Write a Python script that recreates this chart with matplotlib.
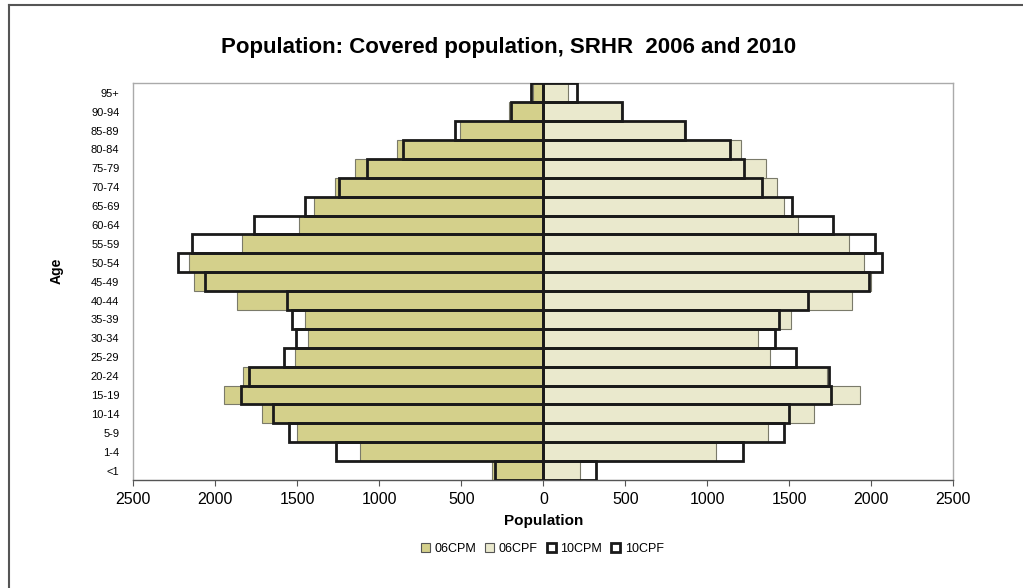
import matplotlib
matplotlib.use("Agg")
import matplotlib.pyplot as plt
from matplotlib.patches import Patch
from matplotlib.lines import Line2D
import numpy as np

plt.rcParams['font.family'] = ['Liberation Sans', 'DejaVu Sans']

# Age groups, youngest at the bottom
ages = ['<1', '1-4', '5-9', '10-14', '15-19', '20-24', '25-29', '30-34', '35-39',
        '40-44', '45-49', '50-54', '55-59', '60-64', '65-69', '70-74', '75-79',
        '80-84', '85-89', '90-94', '95+']

# Covered population by sex, 2006 and 2010
m06 = [310, 1115, 1500, 1715, 1950, 1830, 1515, 1435, 1455, 1865, 2130, 2160,
       1835, 1490, 1400, 1270, 1150, 890, 505, 210, 60]
f06 = [225, 1055, 1370, 1650, 1930, 1730, 1380, 1310, 1510, 1885, 2000, 1955,
       1865, 1555, 1470, 1425, 1355, 1205, 860, 475, 150]
m10 = [295, 1265, 1550, 1650, 1845, 1795, 1580, 1505, 1530, 1560, 2060, 2225,
       2145, 1765, 1455, 1245, 1075, 855, 540, 200, 75]
f10 = [320, 1215, 1470, 1500, 1755, 1740, 1540, 1415, 1435, 1615, 1985, 2065,
       2025, 1765, 1515, 1335, 1225, 1140, 865, 480, 205]

xticks = [-2500, -2000, -1500, -1000, -500, 0, 500, 1000, 1500, 2000, 2500]

c_m06 = '#D4D08B'
c_f06 = '#EAE9CD'

fig = plt.figure(figsize=(10.23, 5.88), dpi=100)
ax = fig.add_axes([0.1303, 0.1837, 0.8016, 0.6746])

y = np.arange(len(ages))

# 2006: filled bars
ax.barh(y, -np.array(m06), height=1.0, color=c_m06, edgecolor='#7a7a6a', linewidth=0.8, zorder=2)
ax.barh(y, np.array(f06), height=1.0, color=c_f06, edgecolor='#7a7a6a', linewidth=0.8, zorder=2)
# 2010: outlines on top
ax.barh(y, -np.array(m10), height=1.0, facecolor='none', edgecolor='#1a1a1a', linewidth=2.0, zorder=3)
ax.barh(y, np.array(f10), height=1.0, facecolor='none', edgecolor='#1a1a1a', linewidth=2.0, zorder=3)

ax.set_xlim(-2500, 2500)
ax.set_ylim(-0.5, len(ages) - 0.5)
ax.set_xticks(xticks)
ax.set_xticklabels([str(abs(v)) for v in xticks], fontsize=11.5)
ax.set_yticks(y)
ax.set_yticklabels(ages, fontsize=8)
ax.tick_params(axis='y', length=0, pad=10)
ax.tick_params(axis='x', direction='out', length=4, width=0.8, color='#555555', pad=5)

for side in ('left', 'top', 'right'):
    ax.spines[side].set_color('#aaaaaa')
    ax.spines[side].set_linewidth(1.0)
ax.spines['bottom'].set_color('#555555')
ax.spines['bottom'].set_linewidth(1.0)

ax.set_xlabel('Population', fontsize=11, fontweight='bold', labelpad=5)
fig.text(0.055, 0.54, 'Age', rotation=90, fontsize=10, fontweight='bold',
         ha='center', va='center')

fig.text(0.497, 0.92, 'Population: Covered population, SRHR  2006 and 2010',
         fontsize=16, fontweight='bold', ha='center', va='center')

handles = [
    Patch(facecolor=c_m06, edgecolor='#555555', linewidth=0.8, label='06CPM'),
    Patch(facecolor=c_f06, edgecolor='#555555', linewidth=0.8, label='06CPF'),
    Patch(facecolor='white', edgecolor='#1a1a1a', linewidth=2.0, label='10CPM'),
    Patch(facecolor='white', edgecolor='#1a1a1a', linewidth=2.0, label='10CPF'),
]
fig.legend(handles=handles, loc='center', bbox_to_anchor=(0.53, 0.066), ncol=4,
           frameon=False, fontsize=9, handlelength=0.75, handleheight=0.75,
           handletextpad=0.35, columnspacing=0.7)

# chart area border
fig.add_artist(Line2D([0.009, 0.009], [0.0, 0.992], transform=fig.transFigure,
                      color='#555555', linewidth=1.5))
fig.add_artist(Line2D([0.009, 1.0], [0.992, 0.992], transform=fig.transFigure,
                      color='#555555', linewidth=1.5))

fig.savefig('out.png', dpi=100)
